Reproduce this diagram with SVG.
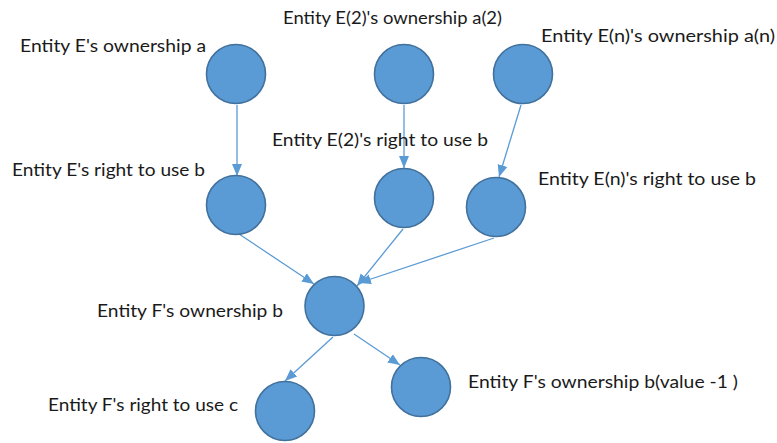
<svg xmlns="http://www.w3.org/2000/svg" width="777" height="443" viewBox="0 0 777 443">
<style>
.n{fill:#5B9BD5;stroke:#41719C;stroke-width:1.6}
.c{stroke:#5B9BD5;stroke-width:1.3;fill:none;marker-end:url(#ah)}
.t{font-family:Lato,"Liberation Sans",sans-serif;font-size:17px;fill:#1a1a1a}
</style>
<defs>
<marker id="ah" markerUnits="userSpaceOnUse" markerWidth="12" markerHeight="12" viewBox="0 0 12 10" refX="12" refY="5" orient="auto">
<path d="M0,0 L12,5 L0,10 z" fill="#5B9BD5"/>
</marker>
</defs>
<rect width="777" height="443" fill="#ffffff"/>
<g id="connectors">
<line class="c" x1="237" y1="105" x2="237" y2="176"/>
<line class="c" x1="404" y1="105" x2="404" y2="168"/>
<line class="c" x1="521" y1="105" x2="499" y2="177"/>
<line class="c" x1="239" y1="234" x2="314" y2="284"/>
<line class="c" x1="403" y1="229" x2="357" y2="286"/>
<line class="c" x1="494" y1="238" x2="359" y2="283"/>
<line class="c" x1="333" y1="337" x2="285" y2="381"/>
<line class="c" x1="354" y1="334" x2="400" y2="365"/>
</g>
<g id="nodeE_own">
<circle class="n" cx="236" cy="74" r="29.5"/>
<text class="t" x="20" y="52" textLength="186" lengthAdjust="spacingAndGlyphs">Entity E's ownership a</text>
</g>
<g id="nodeE2_own">
<circle class="n" cx="404" cy="74" r="29.5"/>
<text class="t" x="283" y="24" textLength="219" lengthAdjust="spacingAndGlyphs">Entity E(2)'s ownership a(2)</text>
</g>
<g id="nodeEn_own">
<circle class="n" cx="523" cy="74" r="29.5"/>
<text class="t" x="541" y="42" textLength="234" lengthAdjust="spacingAndGlyphs">Entity E(n)'s ownership a(n)</text>
</g>
<g id="nodeE_right">
<circle class="n" cx="236" cy="205" r="29.5"/>
<text class="t" x="12" y="176" textLength="193" lengthAdjust="spacingAndGlyphs">Entity E's right to use b</text>
</g>
<g id="nodeE2_right">
<circle class="n" cx="404" cy="198" r="29.5"/>
<text class="t" x="272" y="146" textLength="216" lengthAdjust="spacingAndGlyphs">Entity E(2)'s right to use b</text>
</g>
<g id="nodeEn_right">
<circle class="n" cx="496" cy="207" r="29.5"/>
<text class="t" x="538" y="185" textLength="218" lengthAdjust="spacingAndGlyphs">Entity E(n)'s right to use b</text>
</g>
<g id="nodeF_own">
<circle class="n" cx="334.5" cy="306" r="29.5"/>
<text class="t" x="97" y="317" textLength="186" lengthAdjust="spacingAndGlyphs">Entity F's ownership b</text>
</g>
<g id="nodeF_right">
<circle class="n" cx="285" cy="411" r="29.5"/>
<text class="t" x="48" y="411" textLength="190" lengthAdjust="spacingAndGlyphs">Entity F's right to use c</text>
</g>
<g id="nodeF_own_minus">
<circle class="n" cx="421" cy="387" r="29.5"/>
<text class="t" x="468" y="388" textLength="270" lengthAdjust="spacingAndGlyphs">Entity F's ownership b(value -1 )</text>
</g>
</svg>
